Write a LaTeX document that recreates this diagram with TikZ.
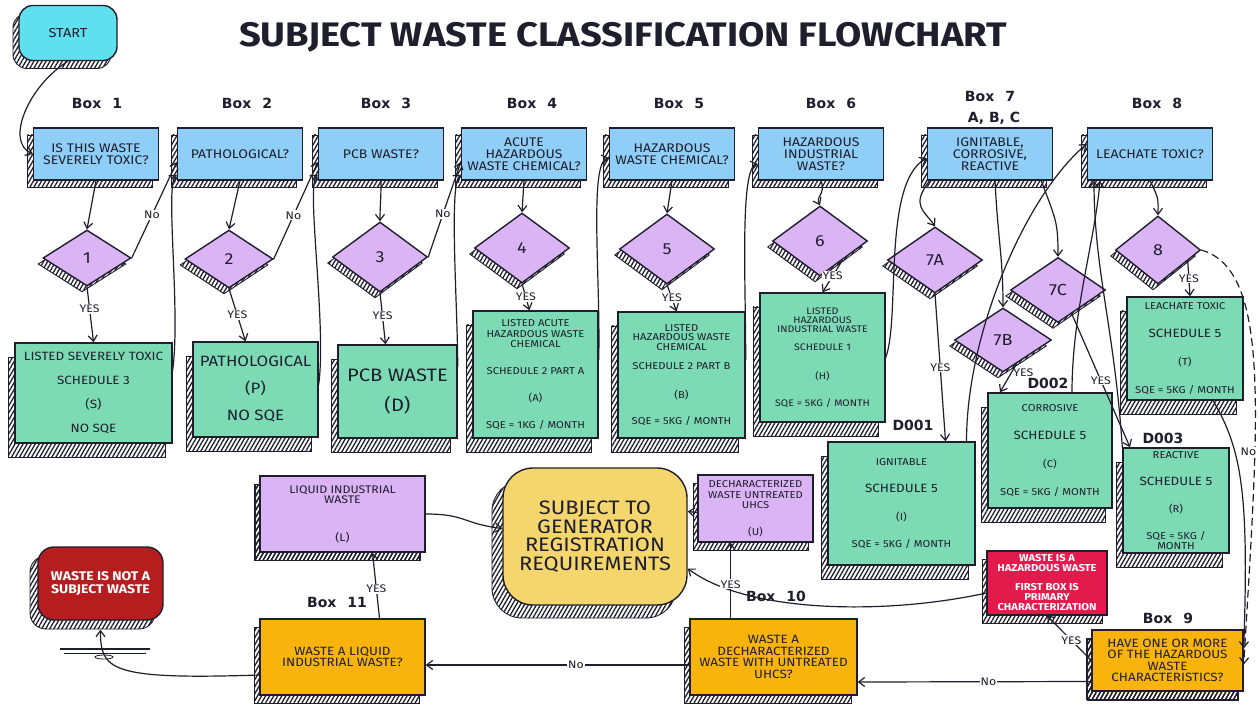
\documentclass[tikz,border=0pt]{standalone}
\usepackage{fontspec}
\setmainfont{Fira Sans}[FakeStretch=1.12]
\newfontfamily\boxfont{DejaVu Sans}
\usetikzlibrary{shapes.geometric,shadows,patterns.meta,arrows.meta}

\definecolor{ink}{HTML}{1E1E2C}
\definecolor{askblue}{HTML}{8FCEF6}
\definecolor{startcyan}{HTML}{5FE0EF}
\definecolor{lilac}{HTML}{DBB4F6}
\definecolor{mint}{HTML}{7CDBB4}
\definecolor{amber}{HTML}{F8B40C}
\definecolor{sand}{HTML}{F4D66C}
\definecolor{crimson}{HTML}{E31A4C}
\definecolor{brick}{HTML}{B51D1F}

\tikzset{
  hatched/.style args={#1/#2}{general shadow={shadow xshift=-#1, shadow yshift=-#2,
      draw=ink, line width=0.9pt, pattern={Lines[angle=60,distance=3.5pt,line width=1.3pt]},
      pattern color=ink}},
  sketch/.style={draw=ink, line width=1.4pt, text=ink, align=center, inner sep=0pt},
  question/.style={sketch, fill=askblue, hatched=6pt/7pt, minimum width=125pt,
      minimum height=52pt, font=\fontsize{12.5}{12}\selectfont},
  decision/.style={sketch, diamond, fill=lilac, hatched=5pt/6pt, font=\fontsize{16}{16}\selectfont},
  result/.style={sketch, fill=mint, hatched=7pt/14pt},
  outcome/.style={sketch, fill=lilac, hatched=5pt/8pt},
  query/.style={sketch, fill=amber, hatched=6pt/8pt, font=\fontsize{12}{11.5}\selectfont},
  boxlbl/.style={font=\boxfont\bfseries\fontsize{14}{14}\selectfont, text=ink},
  flow/.style={draw=ink, line width=1.2pt, line cap=round, -{Straight Barb[length=6pt,width=9pt]}},
  lbl/.style={fill=white, inner sep=1pt, text=ink, font=\fontsize{11}{11}\selectfont},
}

\begin{document}
\begin{tikzpicture}[x=1pt, y=-1pt]
\useasboundingbox (0,0) rectangle (1260,708);
\fill[white] (0,0) rectangle (1260,708);

\node[font=\bfseries\fontsize{34}{38}\selectfont, text=ink] (title) at (623,37)
  {SUBJECT WASTE CLASSIFICATION FLOWCHART};

\node[sketch, fill=startcyan, rounded corners=14pt, hatched=6pt/8pt, minimum width=98pt,
  minimum height=55pt, font=\fontsize{13}{13}\selectfont] (start) at (68,33) {START};

% box numbers
\node[boxlbl] (lb1) at (97,103) {Box\hspace{11pt}1};
\node[boxlbl] (lb2) at (247,103) {Box\hspace{11pt}2};
\node[boxlbl] (lb3) at (386,103) {Box\hspace{11pt}3};
\node[boxlbl] (lb4) at (532,103) {Box\hspace{11pt}4};
\node[boxlbl] (lb5) at (679,103) {Box\hspace{11pt}5};
\node[boxlbl] (lb6) at (831,103) {Box\hspace{11pt}6};
\node[boxlbl] (lb7) at (990,96) {Box\hspace{11pt}7};
\node[boxlbl] (lb7abc) at (994,118) {A, B, C};
\node[boxlbl] (lb8) at (1157,103) {Box\hspace{11pt}8};
\node[boxlbl] (lb9) at (1168,618) {Box\hspace{11pt}9};
\node[boxlbl] (lb10) at (776,596) {Box\hspace{11pt}10};
\node[boxlbl] (lb11) at (337,602) {Box\hspace{11pt}11};
\node[boxlbl] (c1) at (913,425) {D001};
\node[boxlbl] (c2) at (1048,383) {D002};
\node[boxlbl] (c3) at (1163,438) {D003};

% questions
\node[question] (q1) at (96,154) {IS THIS WASTE\\SEVERELY TOXIC?};
\node[question] (q2) at (240,154) {PATHOLOGICAL?};
\node[question] (q3) at (381,154) {PCB WASTE?};
\node[question] (q4) at (524,154) {ACUTE\\HAZARDOUS\\WASTE CHEMICAL?};
\node[question] (q5) at (672,154) {HAZARDOUS\\WASTE CHEMICAL?};
\node[question] (q6) at (821,154) {HAZARDOUS\\INDUSTRIAL\\WASTE?};
\node[question] (q7) at (990,154) {IGNITABLE,\\CORROSIVE,\\REACTIVE};
\node[question] (q8) at (1150,154) {LEACHATE TOXIC?};

% decisions
\node[decision, minimum width=88pt, minimum height=56pt] (d1) at (87,258) {1};
\node[decision, minimum width=88pt, minimum height=58pt] (d2) at (229,259) {2};
\node[decision, minimum width=95pt, minimum height=70pt] (d3) at (380,257) {3};
\node[decision, minimum width=95pt, minimum height=70pt] (d4) at (522,248) {4};
\node[decision, minimum width=95pt, minimum height=70pt] (d5) at (667,249) {5};
\node[decision, minimum width=95pt, minimum height=70pt] (d6) at (820,241) {6};
\node[decision, minimum width=95pt, minimum height=66pt] (d7a) at (935,260) {7A};
\node[decision, minimum width=97pt, minimum height=64pt] (d7b) at (1003,340) {7B};
\node[decision, minimum width=95pt, minimum height=65pt] (d7c) at (1058,290) {7C};
\node[decision, minimum width=85pt, minimum height=68pt] (d8) at (1158,250) {8};

% listed results
\node[result, minimum width=157pt, minimum height=100pt, font=\fontsize{12}{24}\selectfont]
  (g1) at (93.5,393) {LISTED SEVERELY TOXIC\\SCHEDULE 3\\(S)\\NO SQE};
\node[result, minimum width=125pt, minimum height=95pt, font=\fontsize{15}{27}\selectfont]
  (g2) at (255.5,389.5) {PATHOLOGICAL\\(P)\\NO SQE};
\node[result, minimum width=119pt, minimum height=93pt, font=\fontsize{18}{30}\selectfont]
  (g3) at (397.5,391.5) {PCB WASTE\\(D)};
\node[result, minimum width=125pt, minimum height=127pt, font=\fontsize{10}{10.5}\selectfont]
  (g4) at (535.5,374.5) {LISTED ACUTE\\HAZARDOUS WASTE\\CHEMICAL\\[16pt]SCHEDULE 2 PART A\\[17pt](A)\\[16pt]SQE = 1KG / MONTH};
\node[result, minimum width=127pt, minimum height=126pt, font=\fontsize{10}{9.5}\selectfont]
  (g5) at (681.5,375) {LISTED\\HAZARDOUS WASTE\\CHEMICAL\\[10pt]SCHEDULE 2 PART B\\[19pt](B)\\[16pt]SQE = 5KG / MONTH};
\node[result, minimum width=125pt, minimum height=129pt, font=\fontsize{9.5}{9}\selectfont]
  (g6) at (822.5,357.5) {LISTED\\HAZARDOUS\\INDUSTRIAL WASTE\\[9pt]SCHEDULE 1\\[20pt](H)\\[17pt]SQE = 5KG / MONTH};
\node[result, minimum width=147pt, minimum height=123pt, font=\fontsize{10}{27.5}\selectfont]
  (g7a) at (901.5,503.5) {IGNITABLE\\{\fontsize{12}{12}\selectfont SCHEDULE 5}\\(I)\\SQE = 5KG / MONTH};
\node[result, minimum width=124pt, minimum height=115pt, font=\fontsize{10}{28}\selectfont]
  (g7b) at (1050,450.5) {CORROSIVE\\{\fontsize{12}{12}\selectfont SCHEDULE 5}\\(C)\\SQE = 5KG / MONTH};
\node[result, minimum width=106pt, minimum height=105pt, font=\fontsize{10}{27}\selectfont]
  (g7c) at (1176,500.5) {REACTIVE\\{\fontsize{12}{12}\selectfont SCHEDULE 5}\\(R)\\SQE = 5KG /\\[-17pt]MONTH};
\node[result, minimum width=116pt, minimum height=103pt, font=\fontsize{10}{27.7}\selectfont]
  (g8) at (1185,348.5) {LEACHATE TOXIC\\{\fontsize{12}{12}\selectfont SCHEDULE 5}\\(T)\\SQE = 5KG / MONTH};

% lower part
\node[outcome, minimum width=165pt, minimum height=76pt, hatched=6pt/8pt, font=\fontsize{11}{10.5}\selectfont]
  (lbox) at (342.5,514) {LIQUID INDUSTRIAL\\WASTE\\[27pt](L)};
\node[sketch, fill=brick, text=white, rounded corners=16pt, hatched=8pt/9pt, minimum width=125pt,
  minimum height=73pt, font=\bfseries\fontsize{12.5}{13}\selectfont]
  (notsubj) at (100.5,583.5) {WASTE IS NOT A\\SUBJECT WASTE};
\node[query, minimum width=165pt, minimum height=76pt] (q11) at (342.5,657)
  {WASTE A LIQUID\\INDUSTRIAL WASTE?};
\node[sketch, fill=sand, rounded corners=30pt, hatched=11pt/13pt, minimum width=184pt,
  minimum height=137pt, font=\fontsize{19.5}{18.5}\selectfont]
  (subj) at (595,536.5) {SUBJECT TO\\GENERATOR\\REGISTRATION\\REQUIREMENTS};
\node[outcome, minimum width=115pt, minimum height=67pt, font=\fontsize{10}{10.5}\selectfont]
  (ubox) at (755.5,508.5) {DECHARACTERIZED\\WASTE UNTREATED\\UHCS\\[16pt](U)};
\node[query, minimum width=167pt, minimum height=76pt] (q10) at (773.5,657)
  {WASTE A\\DECHARACTERIZED\\WASTE WITH UNTREATED\\UHCS?};
\node[sketch, fill=crimson, text=white, hatched=5pt/8pt, minimum width=120pt, minimum height=64pt,
  font=\bfseries\fontsize{10}{10}\selectfont]
  (haz) at (1047,583) {WASTE IS A\\HAZARDOUS WASTE\\[9pt]FIRST BOX IS\\PRIMARY\\CHARACTERIZATION};
\node[query, hatched=5pt/9pt, minimum width=151pt, minimum height=61pt] (q9) at (1167.5,660.5)
  {HAVE ONE OR MORE\\OF THE HAZARDOUS\\WASTE\\CHARACTERISTICS?};

% scribble under the end box
\draw[ink, line width=1.3pt] (60,649) -- (150,649);
\draw[ink, line width=1pt] (64,653) -- (146,653);
\draw[ink, line width=0.8pt] (104,657) ellipse (9 and 2);

% connectors, boxes 1-6
\draw[flow] (start.south) .. controls +(-40,25) and +(-28,-12) .. (q1.west);
\draw[flow] (q1.south) -- (d1.north);
\draw[flow] (d1.south) -- node[lbl, pos=0.4]{YES} (g1.north);
\draw[flow] (d1.east) -- node[lbl, pos=0.45]{No} ([yshift=-8pt]q2.west);
\draw[flow] ([yshift=23pt]g1.east) .. controls +(8,-60) and +(-12,10) .. ([yshift=6pt]q2.south west);

\draw[flow] (q2.south) -- (d2.north);
\draw[flow] (d2.south) -- node[lbl, pos=0.5]{YES} ([xshift=-10pt]g2.north);
\draw[flow] (d2.east) -- node[lbl, pos=0.45]{No} ([yshift=-8pt]q3.west);
\draw[flow] ([yshift=5pt]g2.east) .. controls +(8,-60) and +(-12,10) .. ([yshift=6pt]q3.south west);

\draw[flow] (q3.south) .. controls +(0,20) and +(0,-15) .. (d3.north);
\draw[flow] (d3.south) -- node[lbl, pos=0.45]{YES} ([xshift=-12pt]g3.north);
\draw[flow] (d3.east) -- node[lbl, pos=0.45]{No} ([yshift=-8pt]q4.west);
\draw[flow] ([yshift=25pt]g3.east) .. controls +(0,-60) and +(-12,10) .. ([yshift=6pt]q4.south west);

\draw[flow] (q4.south) -- (d4.north);
\draw[flow] (d4.south) -- node[lbl, pos=0.5]{YES} ([xshift=-6pt]g4.north);
\draw[flow] ([yshift=15pt]g4.east) .. controls +(2,-80) and +(-20,4) .. ([yshift=-4pt]q5.west);

\draw[flow] (q5.south) -- (d5.north);
\draw[flow] (d5.south) -- node[lbl, pos=0.5]{YES} ([xshift=-5pt]g5.north);
\draw[flow] ([yshift=15pt]g5.east) .. controls +(0,-80) and +(-18,4) .. ([yshift=-10pt]q6.west);

\draw[flow] (q6.south) .. controls +(5,15) and +(-5,-10) .. (d6.north);
\draw[flow] (d6.-40) -- node[lbl, pos=0.5]{YES} (g6.north);
\draw[flow] (g6.east) .. controls +(15,-40) and +(-45,25) .. ([yshift=-4pt]q7.west);

% box 7
\draw[flow] ([xshift=3pt]q7.south west) .. controls +(-20,25) and +(-10,-15) .. (d7a.north);
\draw[flow] ([xshift=5pt]q7.south) .. controls +(3,60) and +(0,-50) .. (d7b.north);
\draw[flow] ([xshift=-12pt]q7.south east) .. controls +(15,40) and +(0,-35) .. (d7c.north);
\draw[flow] (d7a.south) -- node[lbl, pos=0.5]{YES} ([xshift=44pt]g7a.north);
\draw[flow] (d7b.-60) -- node[lbl, pos=0.3, anchor=west, fill=none]{YES} ([xshift=-50pt]g7b.north);
\draw[flow] (d7c.-60) -- node[lbl, pos=0.5]{YES} ([xshift=-46pt]g7c.north);
\draw[flow] ([xshift=65pt]g7a.north) .. controls +(0,-110) and +(-60,50) .. ([yshift=10pt]q8.west);
\draw[flow] ([xshift=22pt]g7b.north) .. controls +(0,-80) and +(-5,60) .. ([xshift=-50pt]q8.south);
\draw[flow] (g7c.north west) .. controls +(-8,-120) and +(0,90) .. ([xshift=-56pt]q8.south);

% box 8
\draw[flow] (q8.south) .. controls +(10,20) and +(0,-15) .. (d8.north);
\draw[flow] (d8.-20) -- node[lbl, pos=0.5]{YES} ([xshift=5pt]g8.north);
\draw[flow] ([xshift=28pt]g8.south) .. controls +(30,50) and +(5,-150) .. ([yshift=12pt]q9.east);
\draw[flow, dash pattern=on 7pt off 5pt] (d8.east) .. controls +(70,20) and +(15,-250) ..
  node[lbl, pos=0.67, anchor=east, xshift=3pt]{No} ([yshift=-4pt]q9.east);

% boxes 9-11
\draw[flow] (q9.west) -- node[lbl, pos=0.45]{YES} (haz.south);
\draw[flow] ([yshift=-21pt]q9.west) -- node[lbl, pos=0.44]{No} ([yshift=-25pt]q10.east);
\draw[flow] ([yshift=-10pt]haz.west) .. controls +(-100,22) and +(60,45) .. ([yshift=-32pt]subj.east);
\draw[flow] ([xshift=-43pt]q10.north) -- node[lbl, pos=0.45]{YES} ([xshift=-25pt]ubox.south);
\draw[flow] ([yshift=-4pt]ubox.west) -- ([yshift=25pt]subj.east);
\draw[flow] ([yshift=-8pt]q10.west) -- node[lbl, pos=0.43]{No} ([yshift=-8pt]q11.east);
\draw[flow] ([xshift=37pt]q11.north) -- node[lbl, pos=0.45]{YES} ([xshift=30pt]lbox.south);
\draw[flow] (lbox.east) .. controls +(40,0) and +(-40,-5) .. ([yshift=8pt]subj.west);
\draw[flow] ([yshift=-18pt]q11.west) .. controls +(-150,5) and +(0,40) .. ([yshift=-9pt]notsubj.south);
\end{tikzpicture}
\end{document}
